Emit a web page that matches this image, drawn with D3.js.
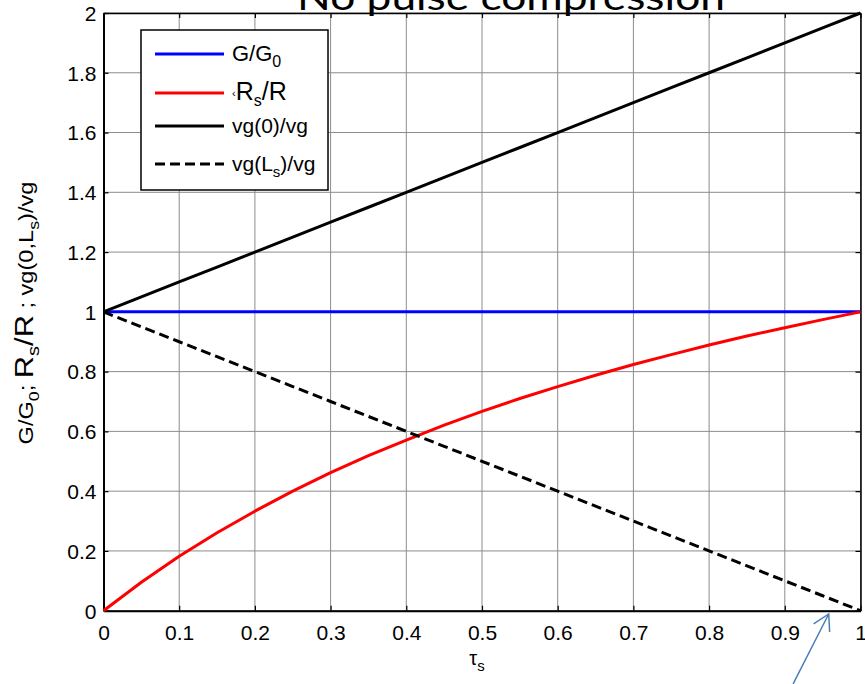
<!DOCTYPE html>
<html>
<head>
<meta charset="utf-8">
<script src="https://cdn.jsdelivr.net/npm/d3@7"></script>
<style>
  html, body { margin: 0; padding: 0; background: #fff; }
  svg { display: block; font-family: "Liberation Sans", Arial, sans-serif; }
</style>
</head>
<body>
<svg id="chart" width="865" height="684"></svg>
<script>
// Normalised time along the sample
const tau = [0, 0.05, 0.1, 0.15, 0.2, 0.25, 0.3, 0.35, 0.4, 0.45, 0.5,
             0.55, 0.6, 0.65, 0.7, 0.75, 0.8, 0.85, 0.9, 0.95, 1];
// Gain ratio G/G0
const gainRatio = [1, 1, 1, 1, 1, 1, 1, 1, 1, 1, 1,
                   1, 1, 1, 1, 1, 1, 1, 1, 1, 1];
// Resistance ratio Rs/R
const resRatio = [0, 0.095, 0.182, 0.261, 0.333, 0.400, 0.462, 0.519, 0.571, 0.621, 0.667,
                  0.710, 0.750, 0.788, 0.824, 0.857, 0.889, 0.919, 0.947, 0.974, 1];
// Group velocity ratio at the entrance, vg(0)/vg
const vgEntry = [1, 1.05, 1.10, 1.15, 1.20, 1.25, 1.30, 1.35, 1.40, 1.45, 1.50,
                 1.55, 1.60, 1.65, 1.70, 1.75, 1.80, 1.85, 1.90, 1.95, 2];
// Group velocity ratio at the exit, vg(Ls)/vg
const vgExit = [1, 0.95, 0.90, 0.85, 0.80, 0.75, 0.70, 0.65, 0.60, 0.55, 0.50,
                0.45, 0.40, 0.35, 0.30, 0.25, 0.20, 0.15, 0.10, 0.05, 0];

const xTicks = [0, 0.1, 0.2, 0.3, 0.4, 0.5, 0.6, 0.7, 0.8, 0.9, 1];
const xTickLabels = ["0", "0.1", "0.2", "0.3", "0.4", "0.5", "0.6", "0.7", "0.8", "0.9", "1"];
const yTicks = [0, 0.2, 0.4, 0.6, 0.8, 1, 1.2, 1.4, 1.6, 1.8, 2];
const yTickLabels = ["0", "0.2", "0.4", "0.6", "0.8", "1", "1.2", "1.4", "1.6", "1.8", "2"];

// Annotation arrow (data units): tail below the axis, tip at the dashed curve's end
const arrowTail = [0.911, -0.245];
const arrowTip = [0.958, -0.011];

const svg = d3.select("#chart");
const plotLeft = 103.5, plotRight = 860.5, plotTop = 13, plotBottom = 610.7;

const x = d3.scaleLinear().domain([0, 1]).range([plotLeft, plotRight]);
const y = d3.scaleLinear().domain([0, 2]).range([plotBottom, plotTop]);

// Grid lines
const grid = svg.append("g").attr("class", "grid");
grid.selectAll("line.v").data(xTicks).join("line").attr("class", "v")
  .attr("x1", d => x(d)).attr("x2", d => x(d))
  .attr("y1", plotTop).attr("y2", plotBottom)
  .attr("stroke", "#8c8c8c").attr("stroke-width", 1);
grid.selectAll("line.h").data(yTicks).join("line").attr("class", "h")
  .attr("x1", plotLeft).attr("x2", plotRight)
  .attr("y1", d => y(d)).attr("y2", d => y(d))
  .attr("stroke", "#8c8c8c").attr("stroke-width", 1);

// Axes with inward ticks
const tickLen = 5;
const xAxisBottom = svg.append("g").attr("transform", `translate(0,${plotBottom})`)
  .call(d3.axisBottom(x).tickValues(xTicks).tickFormat((d, i) => xTickLabels[i])
    .tickSizeInner(-tickLen).tickSizeOuter(0).tickPadding(29));
const xAxisTop = svg.append("g").attr("transform", `translate(0,${plotTop})`)
  .call(d3.axisTop(x).tickValues(xTicks).tickFormat("").tickSizeInner(-tickLen).tickSizeOuter(0));
const yAxisLeft = svg.append("g").attr("transform", `translate(${plotLeft},0)`)
  .call(d3.axisLeft(y).tickValues(yTicks).tickFormat((d, i) => yTickLabels[i])
    .tickSizeInner(-tickLen).tickSizeOuter(0).tickPadding(7));
const yAxisRight = svg.append("g").attr("transform", `translate(${plotRight},0)`)
  .call(d3.axisRight(y).tickValues(yTicks).tickFormat("").tickSizeInner(-tickLen).tickSizeOuter(0));

[xAxisBottom, xAxisTop, yAxisLeft, yAxisRight].forEach(g => {
  g.select(".domain").attr("stroke", "#000");
  g.selectAll(".tick line").attr("stroke", "#000").attr("stroke-width", 1.2);
  g.selectAll("text").attr("font-family", "Liberation Sans, Arial, sans-serif")
    .attr("font-size", 21).attr("fill", "#000");
});
xAxisBottom.select(".domain").attr("stroke-width", 2);
yAxisLeft.select(".domain").attr("stroke-width", 2);
xAxisTop.select(".domain").attr("stroke-width", 1.5);
yAxisRight.select(".domain").attr("stroke-width", 1.5);
xAxisBottom.selectAll("text").attr("dy", "0");
yAxisLeft.selectAll("text").attr("dy", "0.35em");

// Data curves
const series = [
  { values: gainRatio, color: "#0000ff", dash: null },
  { values: resRatio, color: "#ff0000", dash: null },
  { values: vgEntry, color: "#000000", dash: null },
  { values: vgExit, color: "#000000", dash: "10,5" }
];
const line = d3.line().x((d, i) => x(tau[i])).y(d => y(d));
svg.append("g").selectAll("path").data(series).join("path")
  .attr("d", d => line(d.values))
  .attr("fill", "none")
  .attr("stroke", d => d.color)
  .attr("stroke-width", 3)
  .attr("stroke-linejoin", "round")
  .attr("stroke-dasharray", d => d.dash);

// Legend
const legend = svg.append("g");
legend.append("rect").attr("x", 141).attr("y", 30).attr("width", 187).attr("height", 160)
  .attr("fill", "#fff").attr("stroke", "#000").attr("stroke-width", 1.5);
const legendRows = [54, 93, 126, 164];
legendRows.forEach((ry, i) => {
  legend.append("line").attr("x1", 155).attr("x2", 224).attr("y1", ry).attr("y2", ry)
    .attr("stroke", series[i].color).attr("stroke-width", 3)
    .attr("stroke-dasharray", series[i].dash);
});
const lt = (ry) => legend.append("text").attr("x", 232).attr("y", ry + 7)
  .attr("font-size", 21).attr("fill", "#000");
let t = lt(legendRows[0]);
t.append("tspan").attr("font-size", 22).text("G/G");
t.append("tspan").attr("font-size", 16).attr("dy", 6).text("0");
t = lt(legendRows[1]);
t.append("tspan").attr("font-size", 11).attr("dy", -3).text("‹");
t.append("tspan").attr("font-size", 25).attr("dy", 3).text("R");
t.append("tspan").attr("font-size", 16).attr("dy", 6).text("s");
t.append("tspan").attr("font-size", 25).attr("dy", -6).text("/R");
t = lt(legendRows[2]);
t.text("vg(0)/vg");
t = lt(legendRows[3]);
t.append("tspan").text("vg(L");
t.append("tspan").attr("font-size", 15).attr("dy", 6).text("s");
t.append("tspan").attr("dy", -6).text(")/vg");

// Axis labels
const xl = svg.append("text").attr("x", 477).attr("y", 665).attr("text-anchor", "middle")
  .attr("font-size", 20).attr("fill", "#000");
xl.append("tspan").text("τ");
xl.append("tspan").attr("font-size", 15).attr("dy", 6).text("s");

const yl = svg.append("text").attr("transform", "translate(33,313) rotate(-90)")
  .attr("text-anchor", "middle").attr("font-size", 20).attr("fill", "#000")
  .attr("textLength", 263).attr("lengthAdjust", "spacingAndGlyphs");
yl.append("tspan").text("G/G");
yl.append("tspan").attr("font-size", 15).attr("dy", 6).text("0");
yl.append("tspan").attr("dy", -6).text("; ");
yl.append("tspan").attr("font-size", 26).text("R");
yl.append("tspan").attr("font-size", 17).attr("dy", 6).text("s");
yl.append("tspan").attr("font-size", 26).attr("dy", -6).text("/R");
yl.append("tspan").text(" ; vg(0,L");
yl.append("tspan").attr("font-size", 15).attr("dy", 6).text("s");
yl.append("tspan").attr("dy", -6).text(")/vg");

// Title
svg.append("text").attr("x", 511).attr("y", 10).attr("text-anchor", "middle")
  .attr("font-family", "Lato, 'Open Sans', sans-serif").attr("font-size", 36)
  .attr("textLength", 428).attr("lengthAdjust", "spacingAndGlyphs")
  .attr("fill", "#000").text("No pulse compression");

// Annotation arrow
const tail = [x(arrowTail[0]), y(arrowTail[1])];
const tip = [x(arrowTip[0]), y(arrowTip[1])];
const ang = Math.atan2(tip[1] - tail[1], tip[0] - tail[0]);
const headLen = 18, headAng = Math.PI / 6;
const arrow = svg.append("g").attr("stroke", "#4a7ebb").attr("stroke-width", 1.5).attr("fill", "none");
arrow.append("line").attr("x1", tail[0]).attr("y1", tail[1]).attr("x2", tip[0]).attr("y2", tip[1]);
arrow.append("path").attr("d", d3.line()([
  [tip[0] - headLen * Math.cos(ang - headAng), tip[1] - headLen * Math.sin(ang - headAng)],
  tip,
  [tip[0] - headLen * Math.cos(ang + headAng), tip[1] - headLen * Math.sin(ang + headAng)]
]));
</script>
</body>
</html>
